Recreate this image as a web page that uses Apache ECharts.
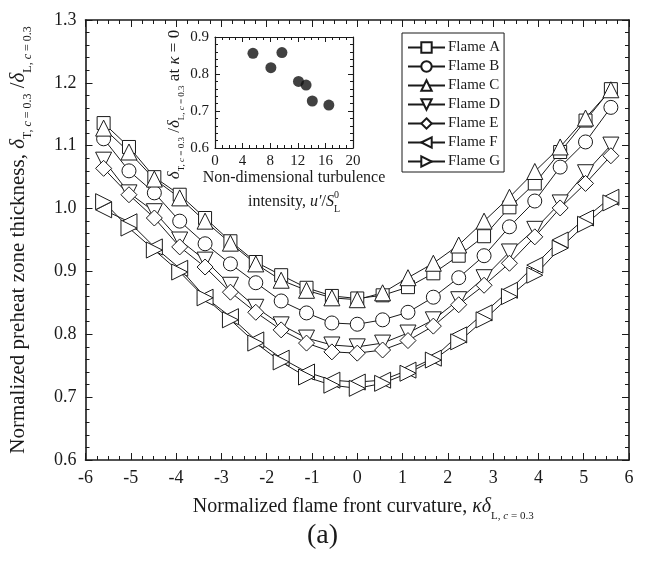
<!DOCTYPE html>
<html lang="en">
<head>
    <meta charset="UTF-8">
    <title>Preheat zone thickness vs curvature</title>
    <script src="https://cdn.jsdelivr.net/npm/echarts@6/dist/echarts.min.js"></script>
    <style>
        html, body { margin: 0; padding: 0; background: #fff; }
        #chart { width: 645px; height: 561px; }
    </style>
</head>
<body>
<div id="chart"></div>
<script>
    // curvature values (x) shared by all flames
    const curvature = [-5.6, -5.04, -4.48, -3.92, -3.36, -2.8, -2.24, -1.68, -1.12, -0.56, 0,
        0.56, 1.12, 1.68, 2.24, 2.8, 3.36, 3.92, 4.48, 5.04, 5.6];
    const flameA = [1.136, 1.098, 1.050, 1.022, 0.985, 0.948, 0.915, 0.894, 0.874, 0.861, 0.857,
        0.862, 0.875, 0.897, 0.925, 0.956, 1.002, 1.040, 1.090, 1.140, 1.190];
    const flameB = [1.111, 1.060, 1.025, 0.980, 0.944, 0.912, 0.882, 0.853, 0.834, 0.818, 0.816,
        0.823, 0.835, 0.859, 0.890, 0.925, 0.971, 1.012, 1.066, 1.106, 1.161];
    const flameC = [1.128, 1.090, 1.047, 1.017, 0.980, 0.945, 0.912, 0.886, 0.870, 0.858, 0.855,
        0.866, 0.890, 0.913, 0.942, 0.980, 1.018, 1.059, 1.098, 1.144, 1.189];
    const flameD = [1.077, 1.025, 0.995, 0.950, 0.918, 0.878, 0.843, 0.815, 0.794, 0.783, 0.780,
        0.786, 0.802, 0.823, 0.855, 0.890, 0.931, 0.967, 1.009, 1.057, 1.101];
    const flameE = [1.064, 1.022, 0.985, 0.939, 0.907, 0.867, 0.835, 0.807, 0.786, 0.772, 0.770,
        0.775, 0.790, 0.813, 0.847, 0.878, 0.913, 0.955, 1.001, 1.040, 1.084];
    const flameF = [0.998, 0.979, 0.939, 0.905, 0.859, 0.828, 0.791, 0.762, 0.740, 0.727, 0.724,
        0.727, 0.743, 0.762, 0.799, 0.834, 0.870, 0.910, 0.950, 0.985, 1.018];
    const flameG = [1.011, 0.969, 0.934, 0.899, 0.858, 0.823, 0.786, 0.756, 0.732, 0.719, 0.714,
        0.722, 0.738, 0.759, 0.788, 0.823, 0.860, 0.894, 0.937, 0.975, 1.009];

    // inset: ratio at kappa = 0 against turbulence intensity
    const insetIntensity = [5.5, 8.1, 9.7, 12.1, 13.2, 14.1, 16.5];
    const insetRatio = [0.856, 0.817, 0.858, 0.780, 0.770, 0.727, 0.716];

    const flameNames = ['Flame A', 'Flame B', 'Flame C', 'Flame D', 'Flame E', 'Flame F', 'Flame G'];
    const flameData = [flameA, flameB, flameC, flameD, flameE, flameF, flameG];
    const symbols = ['rect', 'circle', 'triangle', 'triangle', 'diamond', 'triangle', 'triangle'];
    const rotations = [0, 0, 0, 180, 0, 90, -90];
    const sizes = [13, 14, 16, 16, 16, 16, 16];

    const FONT = 'Liberation Serif';
    const INK = '#1a1a1a';

    const sub = { fontFamily: FONT, fontSize: 11, color: INK, verticalAlign: 'bottom', lineHeight: 10 };
    const subI = Object.assign({}, sub, { fontStyle: 'italic' });
    const main = { fontFamily: FONT, fontSize: 20, color: INK, lineHeight: 30, verticalAlign: 'middle' };
    const mainI = Object.assign({}, main, { fontStyle: 'italic' });
    const mainY = Object.assign({}, main, { fontSize: 21 });
    const mainYI = Object.assign({}, mainI, { fontSize: 21 });
    const subY = Object.assign({}, sub, { fontSize: 12 });
    const subYI = Object.assign({}, subI, { fontSize: 12 });

    function boxAxis(pos, gridIndex, opts, showLabel) {
        return Object.assign({
            type: 'value',
            gridIndex: gridIndex,
            position: pos,
            z: 5,
            axisLine: { show: true, onZero: false, lineStyle: { color: INK, width: gridIndex === 0 ? 1.6 : 1.2 } },
            axisTick: { show: true, inside: true, length: gridIndex === 0 ? 7 : 5, lineStyle: { color: INK } },
            minorTick: { show: true, splitNumber: opts.minorSplit, length: gridIndex === 0 ? 4 : 3, lineStyle: { color: INK } },
            splitLine: { show: false },
            axisLabel: {
                show: showLabel,
                fontFamily: FONT,
                fontSize: gridIndex === 0 ? 18 : 15,
                color: INK,
                margin: gridIndex === 0 ? 9 : 6,
                formatter: opts.fmt
            }
        }, opts.extra);
    }

    const series = flameNames.map(function (name, i) {
        return {
            name: name,
            type: 'line',
            xAxisIndex: 0,
            yAxisIndex: 0,
            data: curvature.map(function (x, k) { return [x, flameData[i][k]]; }),
            symbol: symbols[i],
            symbolRotate: rotations[i],
            symbolSize: sizes[i],
            showAllSymbol: true,
            lineStyle: { color: INK, width: 1 },
            itemStyle: { color: '#fff', borderColor: INK, borderWidth: 1 },
            emphasis: { disabled: true },
            z: 3
        };
    });

    series.push({
        type: 'scatter',
        xAxisIndex: 2,
        yAxisIndex: 2,
        data: insetIntensity.map(function (x, k) { return [x, insetRatio[k]]; }),
        symbol: 'circle',
        symbolSize: 11,
        itemStyle: { color: '#111' },
        z: 5
    });

    const fmt1 = function (v) { return v.toFixed(1); };
    const fmtInt = function (v) { return String(v); };

    const option = {
        animation: false,
        backgroundColor: '#fff',
        grid: [
            { left: 85, top: 20, right: 16, bottom: 101 },
            { left: 215, top: 37, width: 138, height: 111 }
        ],
        legend: {
            data: flameNames,
            orient: 'vertical',
            left: 402,
            top: 33,
            itemWidth: 37,
            itemHeight: 13,
            itemGap: 4,
            padding: [7, 4, 3, 5],
            borderColor: INK,
            borderWidth: 1,
            backgroundColor: '#fff',
            textStyle: { fontFamily: FONT, fontSize: 15, lineHeight: 15, color: INK, padding: [0, 0, 0, -2] },
            z: 6
        },
        xAxis: [
            boxAxis('bottom', 0, {
                minorSplit: 4, fmt: fmtInt,
                extra: {
                    min: -6, max: 6, interval: 1,
                    name: '{m|Normalized flame front curvature, }{mi|κδ}{s|L, }{si|c}{s| = 0.3}',
                    nameLocation: 'middle', nameGap: 32,
                    nameTextStyle: { padding: [0, 0, 0, 12], rich: { m: main, mi: mainI, s: sub, si: subI } }
                }
            }, true),
            boxAxis('top', 0, { minorSplit: 4, extra: { min: -6, max: 6, interval: 1 } }, false),
            boxAxis('bottom', 1, {
                minorSplit: 4, fmt: fmtInt,
                extra: {
                    min: 0, max: 20, interval: 4,
                    name: '{a|Non-dimensional turbulence}\n{a|intensity, }{ai|u′}{a|/}{ai|S}{sp|0}{ss|L}',
                    nameLocation: 'middle', nameGap: 18,
                    nameTextStyle: {
                        verticalAlign: 'top',
                        padding: [0, 0, 0, 20],
                        rich: {
                            a: { fontFamily: FONT, fontSize: 16, color: INK, lineHeight: 24 },
                            ai: { fontFamily: FONT, fontSize: 16, color: INK, lineHeight: 24, fontStyle: 'italic' },
                            sp: { fontFamily: FONT, fontSize: 10, color: INK, verticalAlign: 'top', lineHeight: 10 },
                            ss: { fontFamily: FONT, fontSize: 10, color: INK, verticalAlign: 'bottom', lineHeight: 8, padding: [0, 0, 0, -5] }
                        }
                    }
                }
            }, true),
            boxAxis('top', 1, { minorSplit: 4, extra: { min: 0, max: 20, interval: 4 } }, false)
        ],
        yAxis: [
            boxAxis('left', 0, {
                minorSplit: 5, fmt: fmt1,
                extra: {
                    min: 0.6, max: 1.3, interval: 0.1,
                    name: '{m|Normalized preheat zone thickness, }{mi|δ}{s|T, }{si|c}{s| = 0.3}{m| /}{mi|δ}{s|L, }{si|c}{s| = 0.3}',
                    nameLocation: 'middle', nameGap: 52,
                    nameTextStyle: { rich: { m: mainY, mi: mainYI, s: subY, si: subYI } }
                }
            }, true),
            boxAxis('right', 0, { minorSplit: 5, extra: { min: 0.6, max: 1.3, interval: 0.1 } }, false),
            boxAxis('left', 1, {
                minorSplit: 5, fmt: fmt1,
                extra: {
                    min: 0.6, max: 0.9, interval: 0.1,
                    name: '{mi|δ}{s|T, }{si|c}{s| = 0.3}{m| /}{mi|δ}{s|L, }{si|c}{s| = 0.3}{m| at }{mi|κ}{m| = 0}',
                    nameLocation: 'middle', nameGap: 28,
                    nameTextStyle: {
                        padding: [0, 24, 0, 0],
                        rich: {
                            m: Object.assign({}, main, { fontSize: 17, lineHeight: 24 }),
                            mi: Object.assign({}, mainI, { fontSize: 17, lineHeight: 24 }),
                            s: Object.assign({}, sub, { fontSize: 9, lineHeight: 8 }),
                            si: Object.assign({}, subI, { fontSize: 9, lineHeight: 8 })
                        }
                    }
                }
            }, true),
            boxAxis('right', 1, { minorSplit: 5, extra: { min: 0.6, max: 0.9, interval: 0.1 } }, false)
        ],
        graphic: [{
            type: 'text',
            left: 'center',
            top: 522,
            style: { text: '(a)', font: '28px "Liberation Serif"', fill: INK }
        }],
        series: series
    };

    const myChart = echarts.init(document.getElementById('chart'), null, { renderer: 'canvas' });
    myChart.setOption(option);
</script>
</body>
</html>
